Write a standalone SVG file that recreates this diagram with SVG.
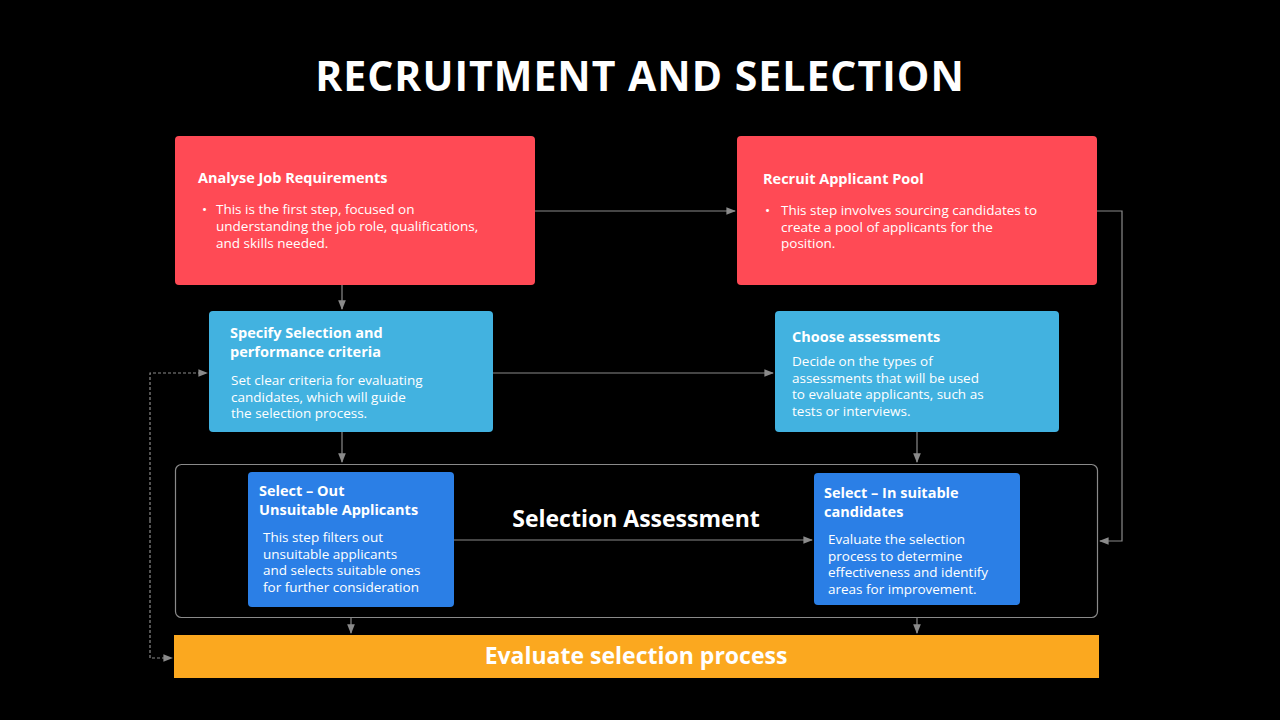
<svg xmlns="http://www.w3.org/2000/svg" width="1280" height="720" viewBox="0 0 1280 720">
<defs>
<style>
text{font-family:"Open Sans","Liberation Sans",sans-serif;fill:#fff}
.h{font-weight:700;font-size:14.5px}
.b{font-size:13.5px}
.c{fill:none;stroke:#8a8a8a;stroke-width:1.2}
</style>
<marker id="a" viewBox="0 0 10 10" refX="9" refY="5" markerWidth="8" markerHeight="8" orient="auto"><path d="M0,1 L10,5 L0,9 z" fill="#8a8a8a"/></marker>
</defs>
<rect width="1280" height="720" fill="#000"/>
<text x="640" y="91" text-anchor="middle" font-size="41" font-weight="700" letter-spacing="1">RECRUITMENT AND SELECTION</text>
<g id="container"><rect x="175.5" y="464.5" width="922" height="153" rx="6" fill="none" stroke="#8a8a8a" stroke-width="1.2"/>
<text x="636" y="527" text-anchor="middle" font-size="23" font-weight="700">Selection Assessment</text></g>
<g id="connectors">
<path class="c" d="M535,211 H735" marker-end="url(#a)"/>
<path class="c" d="M342,285 V309" marker-end="url(#a)"/>
<path class="c" d="M493,373 H773" marker-end="url(#a)"/>
<path class="c" d="M342,432 V462" marker-end="url(#a)"/>
<path class="c" d="M917,432 V462" marker-end="url(#a)"/>
<path class="c" d="M454,540 H812" marker-end="url(#a)"/>
<path class="c" d="M351,617 V633" marker-end="url(#a)"/>
<path class="c" d="M917,617 V633" marker-end="url(#a)"/>
<path class="c" d="M1097,211 H1122 V541 H1100" marker-end="url(#a)"/>
<path class="c" d="M150,520 V373 H207" stroke-dasharray="3,2" marker-end="url(#a)"/>
<path class="c" d="M150,520 V658 H172" stroke-dasharray="3,2" marker-end="url(#a)"/>
</g>
<g id="n1"><rect x="175" y="136" width="360" height="149" rx="4" fill="#FF4A55"/>
<text class="h" x="198" y="183">Analyse Job Requirements</text>
<text class="b" x="202" y="214">•</text>
<text class="b" x="216" y="214">This is the first step, focused on</text>
<text class="b" x="216" y="231">understanding the job role, qualifications,</text>
<text class="b" x="216" y="248">and skills needed.</text></g>
<g id="n2"><rect x="737" y="136" width="360" height="149" rx="4" fill="#FF4A55"/>
<text class="h" x="763" y="184">Recruit Applicant Pool</text>
<text class="b" x="765" y="215">•</text>
<text class="b" x="781" y="215">This step involves sourcing candidates to</text>
<text class="b" x="781" y="232">create a pool of applicants for the</text>
<text class="b" x="781" y="248">position.</text></g>
<g id="n3"><rect x="209" y="311" width="284" height="121" rx="4" fill="#42B2E0"/>
<text class="h" x="230" y="338">Specify Selection and</text>
<text class="h" x="230" y="357">performance criteria</text>
<text class="b" x="231" y="385">Set clear criteria for evaluating</text>
<text class="b" x="231" y="402">candidates, which will guide</text>
<text class="b" x="231" y="418">the selection process.</text></g>
<g id="n4"><rect x="775" y="311" width="284" height="121" rx="4" fill="#42B2E0"/>
<text class="h" x="792" y="342">Choose assessments</text>
<text class="b" x="792" y="366">Decide on the types of</text>
<text class="b" x="792" y="383">assessments that will be used</text>
<text class="b" x="792" y="399">to evaluate applicants, such as</text>
<text class="b" x="792" y="416">tests or interviews.</text></g>
<g id="n5"><rect x="248" y="472" width="206" height="135" rx="4" fill="#2B7FE6"/>
<text class="h" x="259" y="496">Select – Out</text>
<text class="h" x="259" y="515">Unsuitable Applicants</text>
<text class="b" x="263" y="542">This step filters out</text>
<text class="b" x="263" y="559">unsuitable applicants</text>
<text class="b" x="263" y="575">and selects suitable ones</text>
<text class="b" x="263" y="592">for further consideration</text></g>
<g id="n6"><rect x="814" y="473" width="206" height="132" rx="4" fill="#2B7FE6"/>
<text class="h" x="824" y="498">Select – In suitable</text>
<text class="h" x="824" y="517">candidates</text>
<text class="b" x="828" y="544">Evaluate the selection</text>
<text class="b" x="828" y="561">process to determine</text>
<text class="b" x="828" y="577">effectiveness and identify</text>
<text class="b" x="828" y="594">areas for improvement.</text></g>
<g id="n7"><rect x="174" y="635" width="925" height="43" fill="#FBA81F"/>
<text x="636" y="664" text-anchor="middle" font-size="23" font-weight="700">Evaluate selection process</text></g>
</svg>
